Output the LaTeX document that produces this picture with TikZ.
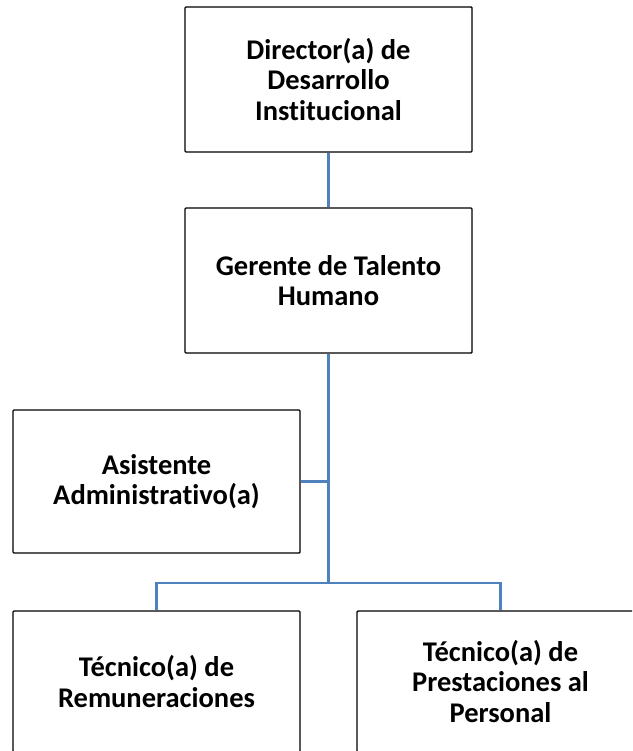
\documentclass[tikz,border=0pt]{standalone}
\usepackage{fontspec}
\setmainfont{Carlito}[Ligatures=NoCommon]
\definecolor{lineablue}{RGB}{79,129,189}
\tikzset{
  cargo/.style={draw=black, line width=1.4pt, rounded corners=1pt, fill=white,
    minimum width=287pt, minimum height=145pt, inner sep=0pt, align=center,
    font=\bfseries\fontsize{28.5}{30.5}\selectfont},
  enlace/.style={draw=lineablue, line width=2.6pt}
}
\begin{document}
\begin{tikzpicture}[x=1pt,y=-1pt]
    \useasboundingbox (0,0) rectangle (632,751);
    \clip (0,0) rectangle (632,751);

    % Connectors
    \coordinate (ramal) at (328.5,583);
    \node[cargo] (director) at (328.5,79.5) {Director(a) de\\Desarrollo\\Institucional};
    \node[cargo] (gerente) at (328.5,280.5) {Gerente de Talento\\Humano};
    \node[cargo, minimum height=143pt] (asistente) at (156.5,481.5) {Asistente\\Administrativo(a)};
    \node[cargo, minimum height=141pt] (tecrem) at (156.5,681.5) {Técnico(a) de\\Remuneraciones};
    \node[cargo, minimum height=141pt] (tecpres) at (500.5,681.5) {Técnico(a) de\\Prestaciones al\\Personal};

    % Lines between the boxes
    \draw[enlace] (director) -- (gerente);
    \draw[enlace] (gerente) -- (ramal);
    \draw[enlace] (asistente) -- (asistente -| ramal);
    \draw[enlace] (tecrem) |- (ramal) -| (tecpres);
\end{tikzpicture}
\end{document}
